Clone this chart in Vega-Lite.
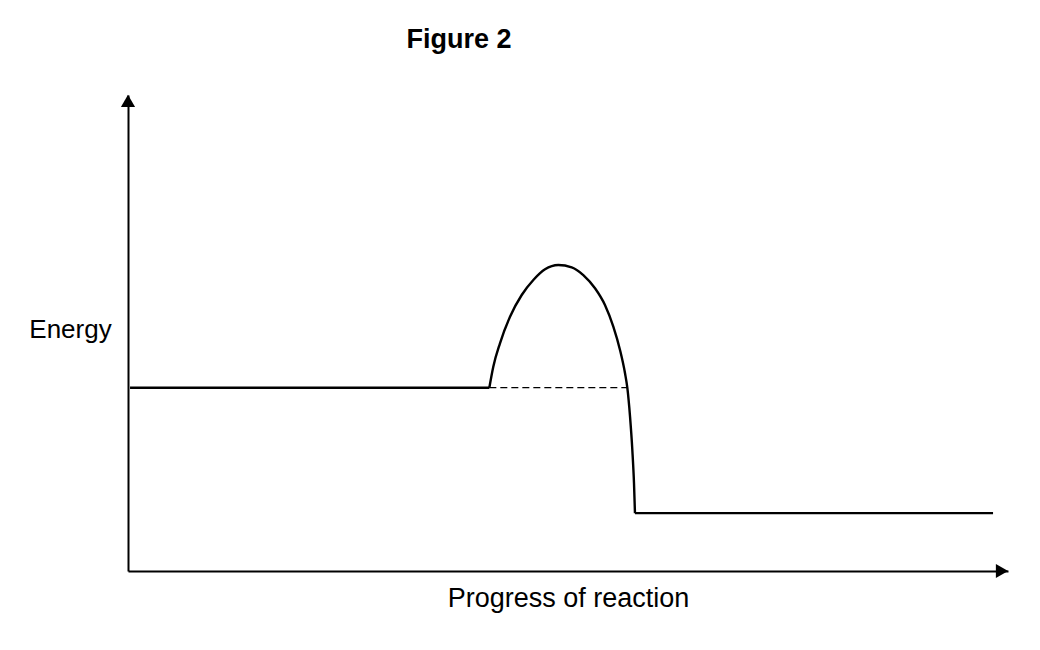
{
  "$schema": "https://vega.github.io/schema/vega-lite/v6.json",
  "width": 880,
  "height": 476,
  "autosize": {"type": "none"},
  "padding": {"left": 128, "top": 95, "right": 32, "bottom": 79},
  "background": "white",
  "config": {"view": {"stroke": null}, "font": "Liberation Sans"},
  "title": {
    "text": "Figure 2",
    "font": "Liberation Sans",
    "fontSize": 27,
    "fontWeight": "bold",
    "color": "black",
    "anchor": "middle",
    "baseline": "alphabetic",
    "dx": -109,
    "offset": 20
  },
  "datasets": {
    "curve": [
      {"seg": "reactants", "progress": 0.23, "energy": 38.51},
      {"seg": "reactants", "progress": 41.06, "energy": 38.51},
      {"seg": "hump", "progress": 41.06, "energy": 38.51},
      {"seg": "hump", "progress": 41.51, "energy": 42.92},
      {"seg": "hump", "progress": 42.27, "energy": 47.84},
      {"seg": "hump", "progress": 43.41, "energy": 53.42},
      {"seg": "hump", "progress": 44.74, "energy": 57.98},
      {"seg": "hump", "progress": 46.06, "energy": 61.13},
      {"seg": "hump", "progress": 47.39, "energy": 63.38},
      {"seg": "hump", "progress": 48.9, "energy": 64.29},
      {"seg": "hump", "progress": 50.42, "energy": 63.8},
      {"seg": "hump", "progress": 51.74, "energy": 62.18},
      {"seg": "hump", "progress": 53.07, "energy": 59.39},
      {"seg": "hump", "progress": 54.2, "energy": 55.88},
      {"seg": "hump", "progress": 55.15, "energy": 51.32},
      {"seg": "hump", "progress": 55.91, "energy": 46.43},
      {"seg": "hump", "progress": 56.48, "energy": 41.53},
      {"seg": "hump", "progress": 56.74, "energy": 38.51},
      {"seg": "hump", "progress": 57.05, "energy": 32.42},
      {"seg": "hump", "progress": 57.31, "energy": 25.42},
      {"seg": "hump", "progress": 57.5, "energy": 18.42},
      {"seg": "hump", "progress": 57.61, "energy": 12.15},
      {"seg": "products", "progress": 57.61, "energy": 12.15},
      {"seg": "products", "progress": 98.3, "energy": 12.15}
    ],
    "reactantLevel": [
      {"progress": 41.06, "progress_end": 56.74, "energy": 38.51}
    ],
    "arrows": [
      {"axis": "energy", "progress": 0, "energy": 98.74},
      {"axis": "progress", "progress": 99.32, "energy": 0}
    ]
  },
  "layer": [
    {
      "data": {"name": "curve"},
      "mark": {"type": "line", "interpolate": "monotone", "color": "black", "strokeWidth": 2.4},
      "encoding": {
        "x": {
          "field": "progress",
          "type": "quantitative",
          "scale": {"domain": [0, 100], "nice": false, "zero": false},
          "axis": {
            "title": "Progress of reaction",
            "domain": true,
            "domainColor": "black",
            "domainWidth": 2,
            "ticks": false,
            "labels": false,
            "grid": false,
            "titleFont": "Liberation Sans",
            "titleFontSize": 27,
            "titleFontWeight": "normal",
            "titleColor": "black",
            "titleAlign": "center",
            "titleBaseline": "alphabetic",
            "titleX": 440,
            "titleY": 35
          }
        },
        "y": {
          "field": "energy",
          "type": "quantitative",
          "scale": {"domain": [0, 100], "nice": false, "zero": false},
          "axis": {
            "title": "Energy",
            "domain": true,
            "domainColor": "black",
            "domainWidth": 2,
            "ticks": false,
            "labels": false,
            "grid": false,
            "titleFont": "Liberation Sans",
            "titleFontSize": 26,
            "titleFontWeight": "normal",
            "titleColor": "black",
            "titleAngle": 0,
            "titleAlign": "center",
            "titleBaseline": "alphabetic",
            "titleX": -58,
            "titleY": 242.5
          }
        },
        "detail": {"field": "seg", "type": "nominal"}
      }
    },
    {
      "data": {"name": "reactantLevel"},
      "mark": {"type": "rule", "color": "black", "strokeWidth": 1.2, "strokeDash": [7, 4]},
      "encoding": {
        "x": {"field": "progress", "type": "quantitative"},
        "x2": {"field": "progress_end"},
        "y": {"field": "energy", "type": "quantitative"}
      }
    },
    {
      "data": {"name": "arrows"},
      "mark": {"type": "point", "filled": true, "opacity": 1, "color": "black", "size": 200},
      "encoding": {
        "x": {"field": "progress", "type": "quantitative"},
        "y": {"field": "energy", "type": "quantitative"},
        "shape": {
          "field": "axis",
          "type": "nominal",
          "scale": {"domain": ["energy", "progress"], "range": ["triangle-up", "triangle-right"]},
          "legend": null
        }
      }
    }
  ]
}
